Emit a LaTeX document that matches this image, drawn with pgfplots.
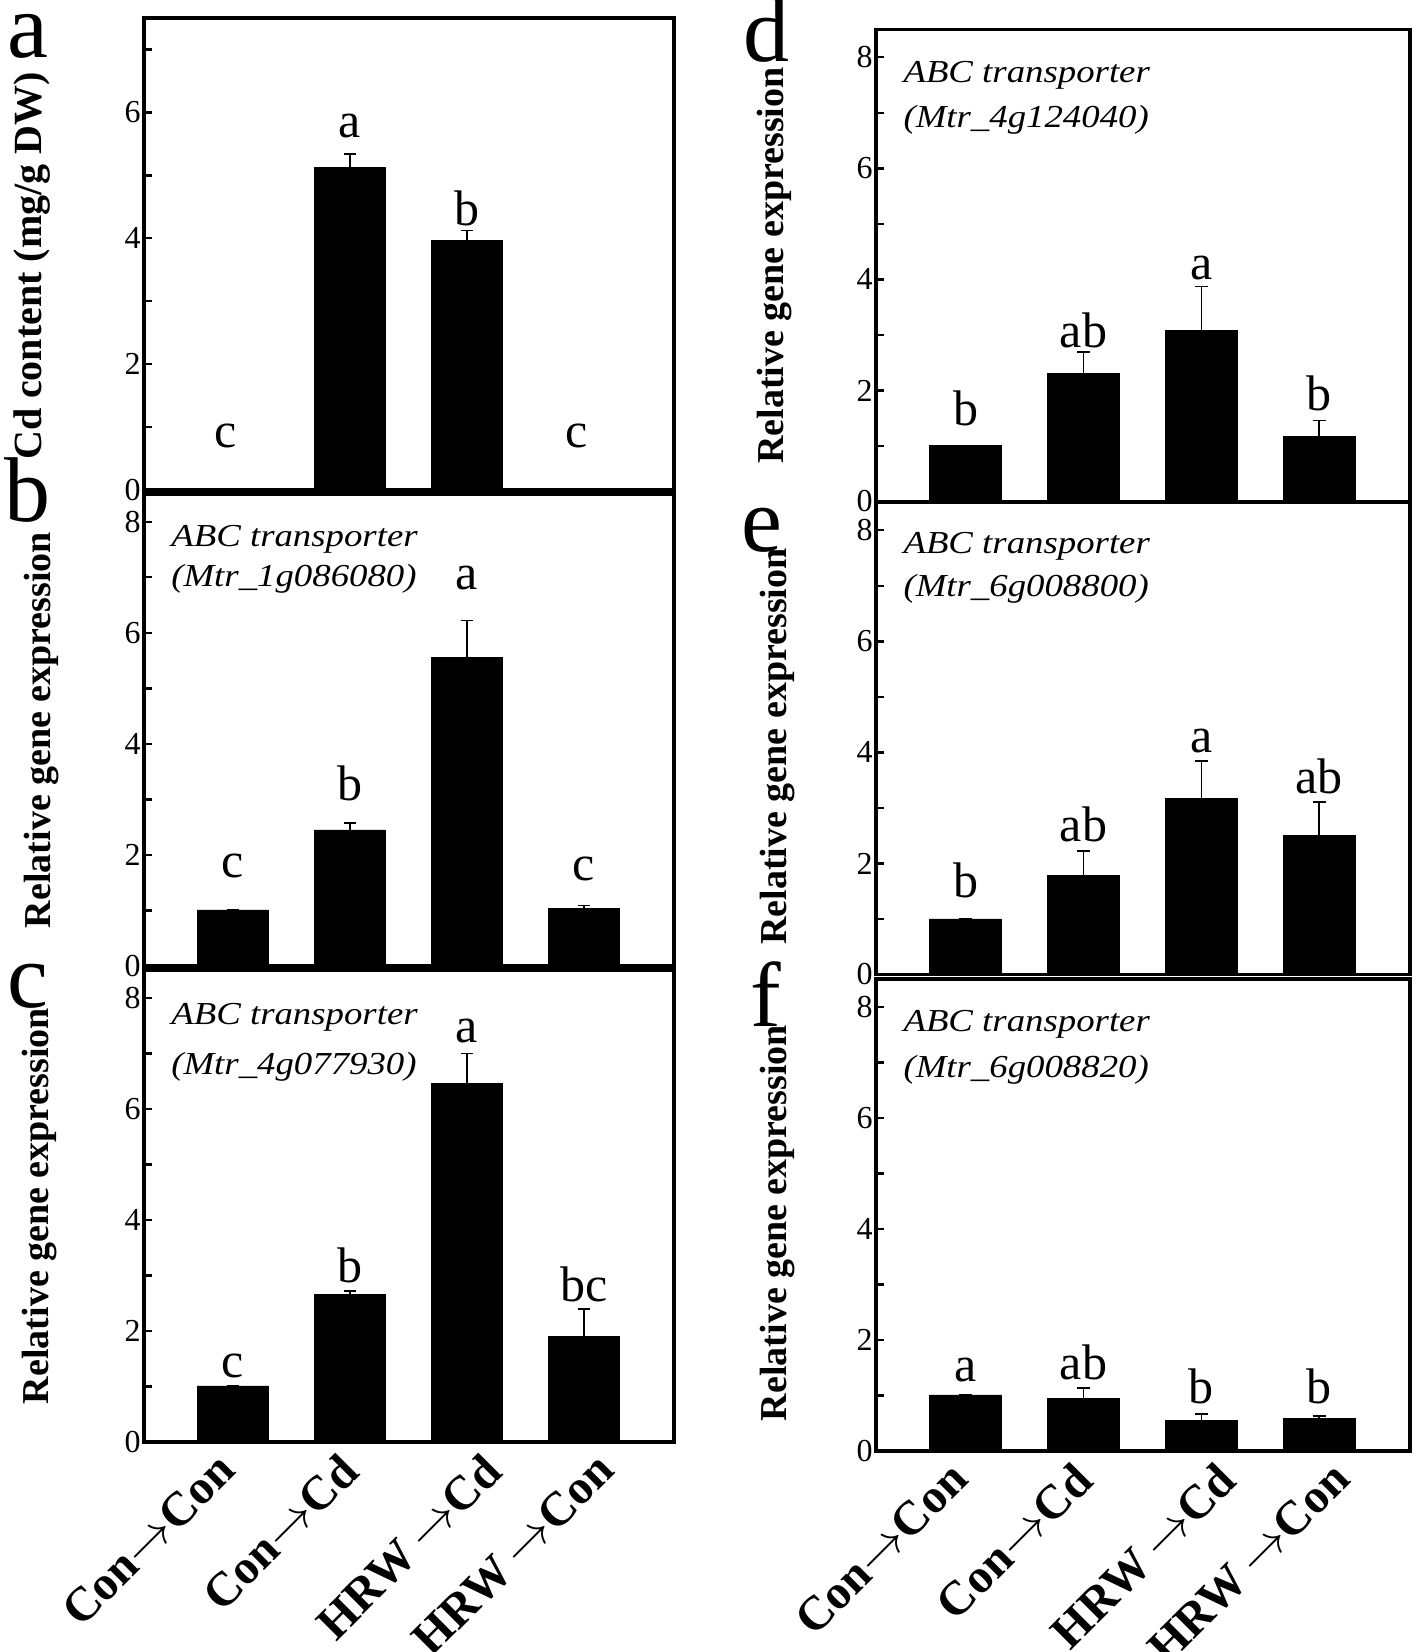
\documentclass[border=0pt]{standalone}
\usepackage{graphicx}
\usepackage{pgfplots}
\pgfplotsset{compat=1.18}
\usepackage{fontspec}
\setmainfont{Liberation Serif}
\newcommand{\tickfont}{\fontsize{16}{16}\selectfont}
\newcommand{\labfont}{\bfseries\fontsize{19}{19}\selectfont}
\newcommand{\letfont}{\fontsize{25}{25}\selectfont}
\newcommand{\genefont}{\itshape\fontsize{16}{18}\selectfont\addfontfeatures{FakeStretch=1.15}}
\newcommand{\panelfont}{\fontsize{46}{46}\selectfont}
\newcommand{\arr}{\ensuremath{\rightarrow}}
\begin{document}
\begin{tikzpicture}
\useasboundingbox (0,0) rectangle (709pt,826pt);
\pgfplotsset{
  panel/.style={
    scale only axis, height=236pt,
    anchor=south west, clip=false,
    xmin=0.24, xmax=4.77, ymin=0, ymax=8.5,
    axis line style={line width=1.8pt},
    tick align=inside,
    major tick length=4pt, minor tick length=4pt,
    every tick/.style={black, line width=1.2pt},
    ytick={0,2,4,6,8}, minor ytick={1,3,5,7},
    ytick pos=left,
    xtick=\empty,
    /pgf/number format/assume math mode=true,
    yticklabel style={font=\tickfont, inner sep=1.5pt},
    ybar, bar width=0.61,
    error bars/y dir=plus, error bars/y explicit,
    error bars/error bar style={line width=0.8pt, black},
    error bars/error mark options={rotate=90, line width=0.8pt, mark size=3.2pt, black},
  },
  xcat/.style={
    xtick={1,2.05,3.27,4.24},
    xticklabels={Con\arr Con, Con\arr Cd, HRW\,\arr Cd, HRW\,\arr Con},
    x tick style={draw=none},
    xticklabel shift=0pt,
    xticklabel style={xshift=-9pt, yshift=0pt, rotate=45, anchor=north east, inner sep=0pt, font=\bfseries\fontsize{24}{24}\selectfont},
  },
  bars/.style={draw=black, fill=black},
}
\newcommand{\ylab}[3]{\node[font=\labfont, rotate=90, anchor=center] at ([xshift=#1, yshift=#2]rel axis cs:0,0.5) {#3};}
\newcommand{\gene}[3]{%
  \node[font=\genefont, anchor=base west, inner sep=0pt] at (axis cs:0.47,#1) {ABC transporter};
  \node[font=\genefont, anchor=base west, inner sep=0pt] at (axis cs:0.47,#2) {(Mtr\_#3)};}
\newcommand{\lett}[3]{\node[font=\letfont, anchor=base, inner sep=0pt] at (axis cs:#1,#2) {#3};}

% panel a
\begin{axis}[panel, at={(72pt,581pt)}, width=265pt, ymax=7.5, ytick={0,2,4,6}]
\addplot[bars] coordinates {(1,0) +- (0,0) (2,5.13) +- (0,0.21) (3,3.97) +- (0,0.15) (4,0) +- (0,0)};
\node[font=\bfseries\fontsize{20}{20}\selectfont, rotate=90, anchor=center] at ([xshift=-56pt, yshift=-6pt]rel axis cs:0,0.5) {Cd content (mg/g DW)};
\lett{0.94}{0.68}{c}\lett{2}{5.60}{a}\lett{3}{4.20}{b}\lett{3.94}{0.68}{c}
\end{axis}

% panel b
\begin{axis}[panel, at={(72pt,343pt)}, width=265pt]
\addplot[bars] coordinates {(1,1.01) +- (0,0) (2,2.45) +- (0,0.13) (3,5.56) +- (0,0.66) (4,1.04) +- (0,0.05)};
\ylab{-51pt}{0pt}{Relative gene expression}
\gene{7.56}{6.84}{1g086080}
\lett{1}{1.60}{c}\lett{2}{2.98}{b}\lett{3}{6.78}{a}\lett{4}{1.54}{c}
\end{axis}

% panel c
\begin{axis}[panel, xcat, at={(72pt,105pt)}, width=265pt]
\addplot[bars] coordinates {(1,1.01) +- (0,0) (2,2.66) +- (0,0.06) (3,6.45) +- (0,0.55) (4,1.90) +- (0,0.49)};
\ylab{-52pt}{0pt}{Relative gene expression}
\gene{7.51}{6.61}{4g077930}
\lett{1}{1.17}{c}\lett{2}{2.88}{b}\lett{3}{7.19}{a}\lett{4}{2.53}{bc}
\end{axis}

% panel d
\begin{axis}[panel, at={(438pt,575.25pt)}, width=267pt]
\addplot[bars] coordinates {(1,1.01) +- (0,0) (2,2.31) +- (0,0.38) (3,3.08) +- (0,0.79) (4,1.17) +- (0,0.29)};
\ylab{-51pt}{0pt}{Relative gene expression}
\gene{7.54}{6.73}{4g124040}
\lett{1}{1.37}{b}\lett{2}{2.78}{ab}\lett{3}{3.99}{a}\lett{4}{1.64}{b}
\end{axis}

% panel e
\begin{axis}[panel, at={(438pt,338.75pt)}, width=267pt]
\addplot[bars] coordinates {(1,1.0) +- (0,0) (2,1.78) +- (0,0.44) (3,3.17) +- (0,0.67) (4,2.51) +- (0,0.60)};
\ylab{-49.5pt}{-4pt}{Relative gene expression}
\gene{7.58}{6.80}{6g008800}
\lett{1}{1.39}{b}\lett{2}{2.39}{ab}\lett{3}{3.99}{a}\lett{4}{3.26}{ab}
\end{axis}

% panel f
\begin{axis}[panel, xcat, at={(438pt,100.5pt)}, width=267pt]
\addplot[bars] coordinates {(1,1.01) +- (0,0) (2,0.95) +- (0,0.18) (3,0.55) +- (0,0.12) (4,0.58) +- (0,0.05)};
\ylab{-49.5pt}{-4pt}{Relative gene expression}
\gene{7.56}{6.72}{6g008820}
\lett{1}{1.25}{a}\lett{2}{1.29}{ab}\lett{3}{0.85}{b}\lett{4}{0.85}{b}
\end{axis}

% panel letters
\node[font=\panelfont, anchor=base, inner sep=0pt] at (14pt,797pt) {a};
\node[font=\panelfont, anchor=base, inner sep=0pt] at (13.75pt,565pt) {b};
\node[font=\panelfont, anchor=base, inner sep=0pt] at (14pt,322pt) {c};
\node[font=\panelfont, anchor=base, inner sep=0pt] at (383pt,795pt) {d};
\node[font=\panelfont, anchor=base, inner sep=0pt] at (381pt,550pt) {e};
\node[font=\panelfont, anchor=base, inner sep=0pt] at (383pt,312.5pt) {f};
\end{tikzpicture}
\end{document}
